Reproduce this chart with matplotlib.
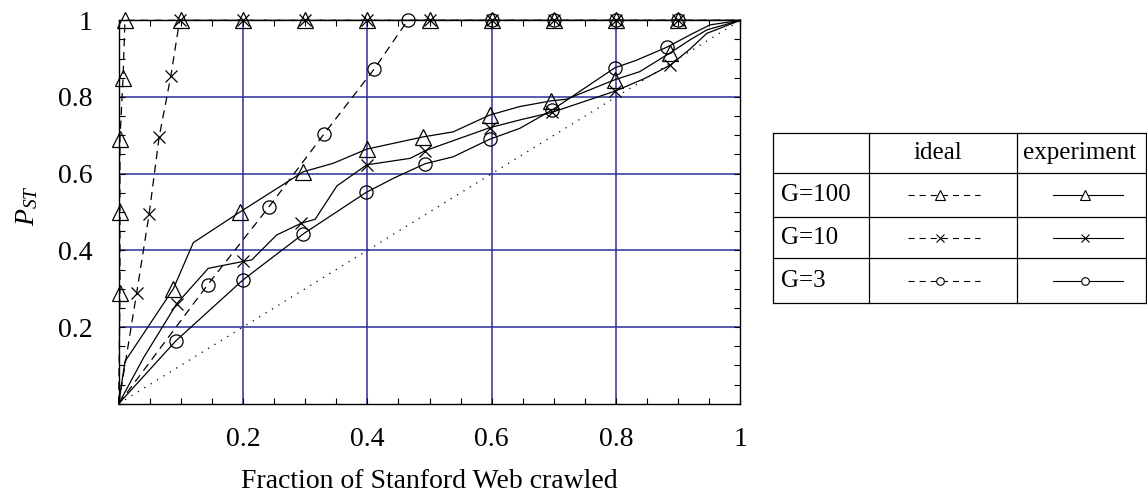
import matplotlib
matplotlib.use('Agg')
import matplotlib.pyplot as plt
from matplotlib.ticker import MultipleLocator, FixedLocator, FuncFormatter

plt.rcParams['font.family'] = ['Liberation Serif', 'DejaVu Serif']
plt.rcParams['mathtext.fontset'] = 'custom'
plt.rcParams['mathtext.it'] = 'Liberation Serif:italic'
plt.rcParams['mathtext.rm'] = 'Liberation Serif'

# ---------------- data ----------------
groups = ['G=100', 'G=10', 'G=3']
col_headers = ['ideal', 'experiment']
x_label = 'Fraction of Stanford Web crawled'
y_label = r'$P_{ST}$'
tick_values = [0.2, 0.4, 0.6, 0.8, 1.0]

ideal100_x = [0, 0.002, 0.002, 0.002, 0.007, 0.01, 0.1, 0.2, 0.3, 0.4, 0.5, 0.6, 0.7, 0.8, 0.9, 1.0]
ideal100_y = [0, 0.29, 0.50, 0.69, 0.85, 1.0, 1.0, 1.0, 1.0, 1.0, 1.0, 1.0, 1.0, 1.0, 1.0, 1.0]

ideal10_x = [0, 0.029, 0.049, 0.065, 0.084, 0.098, 0.2, 0.3, 0.4, 0.5, 0.6, 0.7, 0.8, 0.9, 1.0]
ideal10_y = [0, 0.29, 0.495, 0.695, 0.856, 1.0, 1.0, 1.0, 1.0, 1.0, 1.0, 1.0, 1.0, 1.0, 1.0]

ideal3_x = [0, 0.143, 0.242, 0.33, 0.411, 0.465, 0.6, 0.7, 0.8, 0.9, 1.0]
ideal3_y = [0, 0.31, 0.514, 0.703, 0.873, 1.0, 1.0, 1.0, 1.0, 1.0, 1.0]

exp100_x = [0, 0.010, 0.088, 0.12, 0.195, 0.297, 0.345, 0.399, 0.49, 0.538, 0.597,
            0.645, 0.696, 0.72, 0.798, 0.838, 0.887, 0.919, 0.946, 1.0]
exp100_y = [0, 0.11, 0.30, 0.42, 0.50, 0.605, 0.627, 0.664, 0.696, 0.709, 0.753,
            0.775, 0.79, 0.794, 0.845, 0.866, 0.915, 0.949, 0.975, 1.0]
exp100_marks = [2, 4, 5, 7, 8, 10, 12, 14, 16]

exp10_x = [0, 0.04, 0.093, 0.144, 0.2, 0.214, 0.254, 0.294, 0.316, 0.351, 0.399,
           0.469, 0.493, 0.597, 0.645, 0.697, 0.798, 0.847, 0.887, 0.919, 0.946, 1.0]
exp10_y = [0, 0.12, 0.26, 0.353, 0.371, 0.375, 0.44, 0.471, 0.481, 0.568, 0.623,
           0.64, 0.66, 0.72, 0.74, 0.76, 0.815, 0.849, 0.883, 0.925, 0.966, 1.0]
exp10_marks = [2, 4, 7, 10, 12, 13, 15, 16, 18]

exp3_x = [0, 0.092, 0.2, 0.297, 0.398, 0.442, 0.493, 0.538, 0.597, 0.645, 0.697,
          0.798, 0.833, 0.882, 0.919, 0.951, 1.0]
exp3_y = [0, 0.164, 0.323, 0.443, 0.551, 0.588, 0.626, 0.644, 0.69, 0.718, 0.766,
          0.876, 0.896, 0.93, 0.962, 0.988, 1.0]
exp3_marks = [1, 2, 3, 4, 6, 8, 10, 11, 13]

diag_x = [0, 1]
diag_y = [0, 1]

# ---------------- figure ----------------
W, H = 1147, 500
fig = plt.figure(figsize=(W / 100, H / 100), dpi=100)
ax = fig.add_axes([118.7 / W, 96.3 / H, 621.7 / W, 383.4 / H])
ax.set_xlim(0, 1)
ax.set_ylim(0, 1)

grid_color = '#2e2e98'
for v in tick_values[:-1]:
    ax.axvline(v, color=grid_color, lw=1.1, zorder=1)
    ax.axhline(v, color=grid_color, lw=1.1, zorder=1)

dash = (0, (6.5, 4.5))
mk = dict(mfc='none', mec='black', mew=0.9, clip_on=False)

ax.plot(diag_x, diag_y, color='black', lw=0.9, ls=(0, (1, 5)), zorder=2)

ax.plot(ideal100_x, ideal100_y, color='black', lw=0.9, ls=dash, marker='^', ms=11,
        markevery=list(range(1, len(ideal100_x) - 1)), zorder=3, **mk)
ax.plot(ideal10_x, ideal10_y, color='black', lw=0.9, ls=dash, marker='x', ms=9,
        markevery=list(range(1, len(ideal10_x) - 1)), zorder=3, **mk)
ax.plot(ideal3_x, ideal3_y, color='black', lw=0.9, ls=dash, marker='o', ms=9.5,
        markevery=list(range(1, len(ideal3_x) - 1)), zorder=3, **mk)

ax.plot(exp100_x, exp100_y, color='black', lw=0.9, marker='^', ms=11,
        markevery=exp100_marks, zorder=3, **mk)
ax.plot(exp10_x, exp10_y, color='black', lw=0.9, marker='x', ms=9,
        markevery=exp10_marks, zorder=3, **mk)
ax.plot(exp3_x, exp3_y, color='black', lw=0.9, marker='o', ms=9.5,
        markevery=exp3_marks, zorder=3, **mk)

ax.xaxis.set_major_locator(FixedLocator(tick_values))
ax.yaxis.set_major_locator(FixedLocator(tick_values))
ax.xaxis.set_minor_locator(MultipleLocator(0.05))
ax.yaxis.set_minor_locator(MultipleLocator(0.05))
fmt = FuncFormatter(lambda v, p: f'{v:g}')
ax.xaxis.set_major_formatter(fmt)
ax.yaxis.set_major_formatter(fmt)
ax.tick_params(which='both', direction='in', top=True, right=True, length=4, width=0.8)
ax.tick_params(axis='x', which='major', labelsize=20, pad=17)
ax.tick_params(axis='y', which='major', labelsize=20, pad=19)
for s in ax.spines.values():
    s.set_linewidth(1.0)

fig.text(429.5 / W, 1 - 482 / H, x_label, ha='center', va='center', fontsize=20)
fig.text(27 / W, 1 - 206 / H, y_label, ha='center', va='center', rotation=90, fontsize=20)

# ---------------- table legend ----------------
tab = fig.add_axes([0, 0, 1, 1], zorder=5)
tab.set_xlim(0, W)
tab.set_ylim(H, 0)
tab.axis('off')
tab.patch.set_alpha(0)

x_edges = [772.7, 869.3, 1016.7, 1145.5]
y_edges = [132.7, 173.3, 216.7, 258.3, 303.3]
for xe in x_edges:
    tab.plot([xe, xe], [y_edges[0], y_edges[-1]], color='black', lw=0.9)
for ye in y_edges:
    tab.plot([x_edges[0], x_edges[-1]], [ye, ye], color='black', lw=0.9)

hy = (y_edges[0] + y_edges[1]) / 2
tab.text(938, hy, col_headers[0], ha='center', va='center', fontsize=18)
tab.text(1080, hy, col_headers[1], ha='center', va='center', fontsize=18)

markers = ['^', 'x', 'o']
msizes = [6.5, 5.5, 5.5]
for i, g in enumerate(groups):
    yc = (y_edges[i + 1] + y_edges[i + 2]) / 2
    tab.text(781, yc, g, ha='left', va='center', fontsize=18)
    tab.plot([908, 980], [yc, yc], color='black', lw=0.8, ls=(0, (5.5, 4.5)))
    tab.plot([940], [yc], marker=markers[i], ms=msizes[i], mfc='white', mec='black', mew=0.8)
    tab.plot([1053, 1123], [yc, yc], color='black', lw=0.8)
    tab.plot([1085], [yc], marker=markers[i], ms=msizes[i], mfc='white', mec='black', mew=0.8)

fig.savefig('out.png', dpi=100)
